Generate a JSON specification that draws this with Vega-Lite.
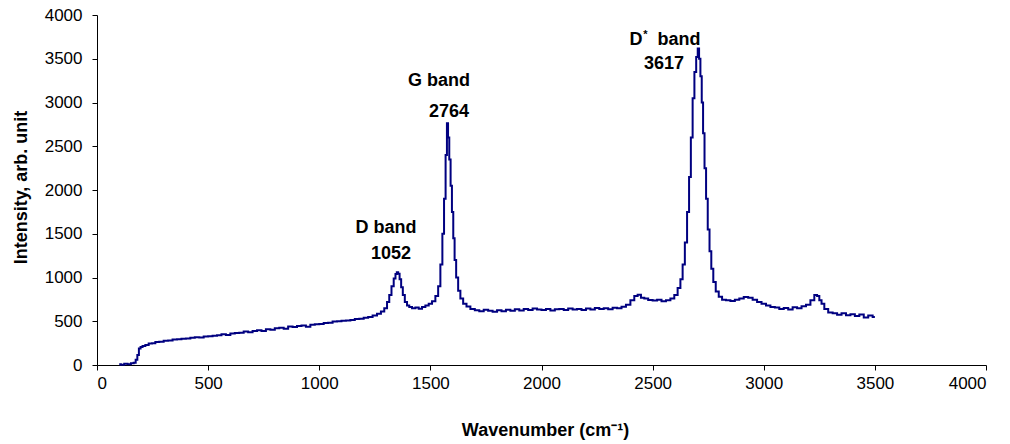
{
  "$schema": "https://vega.github.io/schema/vega-lite/v6.json",
  "autosize": "none",
  "width": 889,
  "height": 350,
  "padding": {"left": 97, "top": 15, "right": 24, "bottom": 79},
  "background": "white",
  "config": {
    "view": {"stroke": null},
    "font": "Liberation Sans",
    "axis": {
      "grid": false,
      "domainColor": "#000000",
      "domainWidth": 1,
      "tickColor": "#000000",
      "tickSize": 5,
      "labelFont": "Liberation Sans",
      "labelFontSize": 17,
      "labelColor": "#000000",
      "titleFont": "Liberation Sans",
      "titleFontSize": 18,
      "titleFontWeight": "bold",
      "titleColor": "#000000"
    }
  },
  "datasets": {
    "spectrum": [
      {"wn": 100, "intensity": 10}, {"wn": 115, "intensity": 4}, {"wn": 130, "intensity": 15}, {"wn": 145, "intensity": 8},
      {"wn": 160, "intensity": 20}, {"wn": 170, "intensity": 26}, {"wn": 178, "intensity": 60}, {"wn": 185, "intensity": 115},
      {"wn": 192, "intensity": 190}, {"wn": 200, "intensity": 205}, {"wn": 210, "intensity": 218}, {"wn": 225, "intensity": 228},
      {"wn": 240, "intensity": 246}, {"wn": 255, "intensity": 250}, {"wn": 270, "intensity": 263}, {"wn": 290, "intensity": 266},
      {"wn": 310, "intensity": 276}, {"wn": 330, "intensity": 280}, {"wn": 350, "intensity": 292}, {"wn": 370, "intensity": 294},
      {"wn": 390, "intensity": 300}, {"wn": 410, "intensity": 304}, {"wn": 430, "intensity": 312}, {"wn": 450, "intensity": 318},
      {"wn": 470, "intensity": 314}, {"wn": 490, "intensity": 326}, {"wn": 510, "intensity": 330}, {"wn": 530, "intensity": 334},
      {"wn": 550, "intensity": 341}, {"wn": 570, "intensity": 352}, {"wn": 590, "intensity": 344}, {"wn": 610, "intensity": 360},
      {"wn": 630, "intensity": 366}, {"wn": 650, "intensity": 369}, {"wn": 670, "intensity": 382}, {"wn": 690, "intensity": 374},
      {"wn": 710, "intensity": 390}, {"wn": 730, "intensity": 396}, {"wn": 750, "intensity": 388}, {"wn": 770, "intensity": 410},
      {"wn": 790, "intensity": 404}, {"wn": 810, "intensity": 421}, {"wn": 830, "intensity": 426}, {"wn": 850, "intensity": 414},
      {"wn": 870, "intensity": 440}, {"wn": 890, "intensity": 434}, {"wn": 910, "intensity": 446}, {"wn": 930, "intensity": 451},
      {"wn": 950, "intensity": 438}, {"wn": 970, "intensity": 461}, {"wn": 990, "intensity": 465}, {"wn": 1010, "intensity": 470},
      {"wn": 1030, "intensity": 481}, {"wn": 1050, "intensity": 484}, {"wn": 1070, "intensity": 496}, {"wn": 1090, "intensity": 499},
      {"wn": 1110, "intensity": 506}, {"wn": 1130, "intensity": 510}, {"wn": 1150, "intensity": 514}, {"wn": 1170, "intensity": 526},
      {"wn": 1190, "intensity": 529}, {"wn": 1210, "intensity": 541}, {"wn": 1230, "intensity": 550}, {"wn": 1250, "intensity": 566},
      {"wn": 1270, "intensity": 585}, {"wn": 1285, "intensity": 612}, {"wn": 1300, "intensity": 650}, {"wn": 1310, "intensity": 720},
      {"wn": 1320, "intensity": 800}, {"wn": 1330, "intensity": 900}, {"wn": 1340, "intensity": 990}, {"wn": 1346, "intensity": 1040},
      {"wn": 1352, "intensity": 1060}, {"wn": 1358, "intensity": 1042}, {"wn": 1365, "intensity": 980}, {"wn": 1372, "intensity": 890},
      {"wn": 1380, "intensity": 800}, {"wn": 1390, "intensity": 720}, {"wn": 1400, "intensity": 680}, {"wn": 1410, "intensity": 662},
      {"wn": 1425, "intensity": 650}, {"wn": 1440, "intensity": 656}, {"wn": 1455, "intensity": 644}, {"wn": 1470, "intensity": 662},
      {"wn": 1485, "intensity": 680}, {"wn": 1500, "intensity": 700}, {"wn": 1515, "intensity": 730}, {"wn": 1530, "intensity": 790},
      {"wn": 1540, "intensity": 900}, {"wn": 1550, "intensity": 1150}, {"wn": 1558, "intensity": 1500}, {"wn": 1565, "intensity": 1900},
      {"wn": 1572, "intensity": 2400}, {"wn": 1577, "intensity": 2764}, {"wn": 1582, "intensity": 2600}, {"wn": 1588, "intensity": 2350},
      {"wn": 1594, "intensity": 2050}, {"wn": 1600, "intensity": 1750}, {"wn": 1606, "intensity": 1450}, {"wn": 1612, "intensity": 1200},
      {"wn": 1620, "intensity": 1000}, {"wn": 1630, "intensity": 850}, {"wn": 1640, "intensity": 760}, {"wn": 1655, "intensity": 700},
      {"wn": 1670, "intensity": 668}, {"wn": 1690, "intensity": 640}, {"wn": 1710, "intensity": 626}, {"wn": 1730, "intensity": 614},
      {"wn": 1750, "intensity": 631}, {"wn": 1770, "intensity": 619}, {"wn": 1790, "intensity": 610}, {"wn": 1810, "intensity": 626},
      {"wn": 1830, "intensity": 614}, {"wn": 1850, "intensity": 631}, {"wn": 1870, "intensity": 619}, {"wn": 1890, "intensity": 636},
      {"wn": 1910, "intensity": 624}, {"wn": 1930, "intensity": 641}, {"wn": 1950, "intensity": 629}, {"wn": 1970, "intensity": 646},
      {"wn": 1990, "intensity": 634}, {"wn": 2010, "intensity": 629}, {"wn": 2030, "intensity": 641}, {"wn": 2050, "intensity": 624},
      {"wn": 2070, "intensity": 636}, {"wn": 2090, "intensity": 641}, {"wn": 2110, "intensity": 629}, {"wn": 2130, "intensity": 646},
      {"wn": 2150, "intensity": 634}, {"wn": 2170, "intensity": 641}, {"wn": 2190, "intensity": 629}, {"wn": 2210, "intensity": 646},
      {"wn": 2230, "intensity": 634}, {"wn": 2250, "intensity": 651}, {"wn": 2270, "intensity": 639}, {"wn": 2290, "intensity": 650},
      {"wn": 2310, "intensity": 636}, {"wn": 2330, "intensity": 655}, {"wn": 2350, "intensity": 650}, {"wn": 2370, "intensity": 666},
      {"wn": 2390, "intensity": 690}, {"wn": 2410, "intensity": 740}, {"wn": 2425, "intensity": 790}, {"wn": 2440, "intensity": 802},
      {"wn": 2455, "intensity": 770}, {"wn": 2470, "intensity": 761}, {"wn": 2490, "intensity": 744}, {"wn": 2510, "intensity": 736},
      {"wn": 2530, "intensity": 746}, {"wn": 2550, "intensity": 730}, {"wn": 2570, "intensity": 741}, {"wn": 2590, "intensity": 760},
      {"wn": 2605, "intensity": 800}, {"wn": 2620, "intensity": 880}, {"wn": 2630, "intensity": 980}, {"wn": 2640, "intensity": 1150},
      {"wn": 2650, "intensity": 1400}, {"wn": 2660, "intensity": 1750}, {"wn": 2668, "intensity": 2150}, {"wn": 2676, "intensity": 2600},
      {"wn": 2684, "intensity": 3050}, {"wn": 2692, "intensity": 3350}, {"wn": 2700, "intensity": 3520}, {"wn": 2706, "intensity": 3617},
      {"wn": 2712, "intensity": 3500}, {"wn": 2718, "intensity": 3300}, {"wn": 2724, "intensity": 3000}, {"wn": 2730, "intensity": 2650},
      {"wn": 2737, "intensity": 2250}, {"wn": 2744, "intensity": 1900}, {"wn": 2752, "intensity": 1550}, {"wn": 2760, "intensity": 1300},
      {"wn": 2768, "intensity": 1100}, {"wn": 2778, "intensity": 950}, {"wn": 2790, "intensity": 840}, {"wn": 2805, "intensity": 780},
      {"wn": 2820, "intensity": 746}, {"wn": 2840, "intensity": 739}, {"wn": 2860, "intensity": 731}, {"wn": 2880, "intensity": 746},
      {"wn": 2900, "intensity": 760}, {"wn": 2920, "intensity": 776}, {"wn": 2940, "intensity": 769}, {"wn": 2960, "intensity": 746},
      {"wn": 2980, "intensity": 721}, {"wn": 3000, "intensity": 700}, {"wn": 3020, "intensity": 681}, {"wn": 3040, "intensity": 664},
      {"wn": 3060, "intensity": 656}, {"wn": 3080, "intensity": 639}, {"wn": 3100, "intensity": 651}, {"wn": 3120, "intensity": 634},
      {"wn": 3140, "intensity": 661}, {"wn": 3160, "intensity": 649}, {"wn": 3180, "intensity": 671}, {"wn": 3200, "intensity": 690},
      {"wn": 3220, "intensity": 740}, {"wn": 3235, "intensity": 800}, {"wn": 3245, "intensity": 790}, {"wn": 3255, "intensity": 740},
      {"wn": 3265, "intensity": 700}, {"wn": 3280, "intensity": 641}, {"wn": 3300, "intensity": 600}, {"wn": 3320, "intensity": 591},
      {"wn": 3340, "intensity": 574}, {"wn": 3360, "intensity": 591}, {"wn": 3380, "intensity": 569}, {"wn": 3400, "intensity": 581},
      {"wn": 3420, "intensity": 559}, {"wn": 3440, "intensity": 576}, {"wn": 3460, "intensity": 544}, {"wn": 3480, "intensity": 566},
      {"wn": 3500, "intensity": 550}
    ],
    "labels": [
      {"wn": 1300, "intensity": 1571, "text": "D band", "kind": "main"},
      {"wn": 1323, "intensity": 1269, "text": "1052", "kind": "main"},
      {"wn": 1539, "intensity": 3246, "text": "G band", "kind": "main"},
      {"wn": 1584, "intensity": 2897, "text": "2764", "kind": "main"},
      {"wn": 2425, "intensity": 3709, "text": "D", "kind": "main"},
      {"wn": 2619, "intensity": 3709, "text": "band", "kind": "main"},
      {"wn": 2551, "intensity": 3440, "text": "3617", "kind": "main"},
      {"wn": 2468, "intensity": 3770, "text": "*", "kind": "sup"}
    ]
  },
  "layer": [
    {
      "data": {"name": "spectrum"},
      "mark": {"type": "line", "color": "#000080", "strokeWidth": 2, "interpolate": "step"},
      "encoding": {
        "x": {
          "field": "wn", "type": "quantitative",
          "scale": {"domain": [0, 4000], "nice": false},
          "axis": {"values": [0, 500, 1000, 1500, 2000, 2500, 3000, 3500, 4000], "format": "d", "labelPadding": 5, "title": "Wavenumber (cm⁻¹)", "titleY": 70, "titleBaseline": "alphabetic", "titleX": 448}
        },
        "y": {
          "field": "intensity", "type": "quantitative",
          "scale": {"domain": [0, 4000], "nice": false},
          "axis": {"values": [0, 500, 1000, 1500, 2000, 2500, 3000, 3500, 4000], "format": "d", "labelPadding": 10, "title": "Intensity, arb. unit", "titleX": -76, "titleY": 172, "titleBaseline": "middle"}
        }
      }
    },
    {
      "data": {"name": "labels"},
      "transform": [{"filter": "datum.kind === 'main'"}],
      "mark": {"type": "text", "font": "Liberation Sans", "fontSize": 18, "fontWeight": "bold", "color": "#000000", "align": "center", "baseline": "middle"},
      "encoding": {
        "x": {"field": "wn", "type": "quantitative"},
        "y": {"field": "intensity", "type": "quantitative"},
        "text": {"field": "text"}
      }
    },
    {
      "data": {"name": "labels"},
      "transform": [{"filter": "datum.kind === 'sup'"}],
      "mark": {"type": "text", "font": "Liberation Sans", "fontSize": 11, "fontWeight": "bold", "color": "#000000", "align": "center", "baseline": "middle"},
      "encoding": {
        "x": {"field": "wn", "type": "quantitative"},
        "y": {"field": "intensity", "type": "quantitative"},
        "text": {"field": "text"}
      }
    }
  ]
}
